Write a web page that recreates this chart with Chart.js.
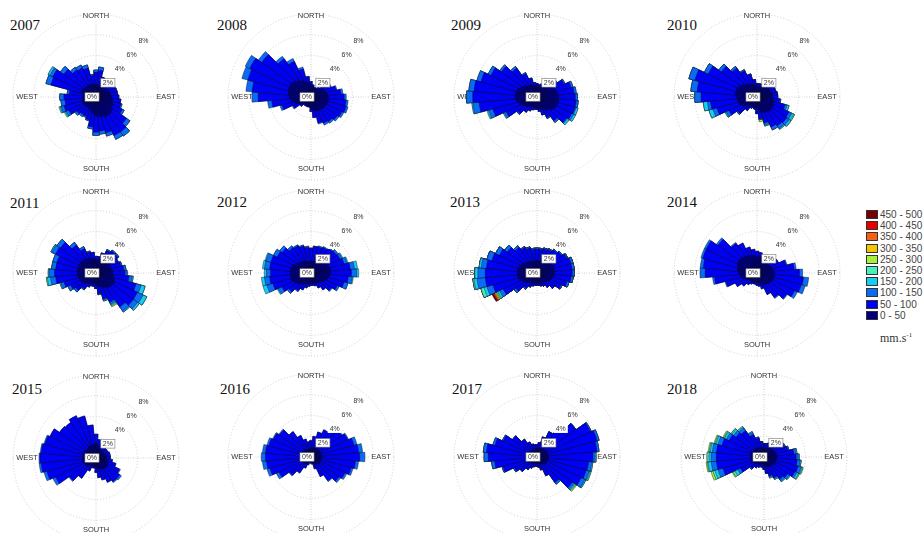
<!DOCTYPE html>
<html>
<head>
<meta charset="utf-8">
<script src="https://cdn.jsdelivr.net/npm/chart.js@4.4.0/dist/chart.umd.min.js"></script>
<style>
  html, body { margin: 0; padding: 0; background: #fff; }
  body { width: 924px; height: 533px; position: relative; overflow: hidden; }
  .rose { position: absolute; }
  .year { position: absolute; font: 15px "Liberation Serif", "Times New Roman", serif; color: #111; line-height: 15px; }
  #legend { position: absolute; left: 866px; top: 209px; font: 10px "Liberation Sans", Arial, sans-serif; color: #444; }
  .row { height: 11.2px; display: flex; align-items: center; white-space: nowrap; }
  .sw { width: 10px; height: 7px; border: 0.5px solid #333; margin-right: 2px; }
  #unit { position: absolute; left: 880px; top: 331px; font: 12px "Liberation Serif", serif; color: #333; }
  #unit sup { font-size: 7px; }
</style>
</head>
<body>
<div id="legend"></div>
<div id="unit">mm.s<sup>-1</sup></div>
<script>
// wind directions (deg, clockwise from north)
const directions = [0,10,20,30,40,50,60,70,80,90,100,110,120,130,140,150,160,170,180,190,200,210,220,230,240,250,260,270,280,290,300,310,320,330,340,350];
const compassNames = ['NORTH', 'EAST', 'SOUTH', 'WEST'];
const speedClasses = ['0 - 50','50 - 100','100 - 150','150 - 200','200 - 250','250 - 300','300 - 350','350 - 400','400 - 450','450 - 500'];
const years = ['2007','2008','2009','2010','2011','2012','2013','2014','2015','2016','2017','2018'];

// cumulative frequency (%) per direction: speed <= 50, <= 100, <= 150 ...
const y2007 = [
  [1.2,1.2,1.1,1.0,1.1,1.2,1.3,1.4,1.4,1.5,1.6,1.7,1.8,2.0,2.1,2.1,2.0,1.9,1.8,1.6,1.4,1.3,1.3,1.3,1.4,1.4,1.3,1.3,1.2,1.5,1.5,1.4,1.3,1.3,1.3,1.2],
  [2.4,2.6,2.0,1.6,1.7,1.9,2.0,2.1,2.1,2.2,2.4,2.5,2.8,3.6,4.1,4.1,3.6,3.3,3.4,2.9,2.3,2.1,2.1,2.3,2.9,3.2,3.0,3.1,2.6,4.5,4.6,3.8,3.2,3.1,2.9,2.1],
  [2.6,2.9,2.0,1.6,1.7,1.9,2.0,2.1,2.1,2.2,2.4,2.6,3.0,4.0,4.6,4.5,3.9,3.6,3.7,3.1,2.4,2.2,2.3,2.5,3.2,3.5,3.4,3.5,2.8,5.0,4.9,4.2,3.5,3.4,3.2,2.2],
  [2.6,2.9,2.0,1.6,1.7,1.9,2.0,2.1,2.1,2.2,2.4,2.6,3.0,4.0,4.6,4.5,3.9,3.6,3.7,3.1,2.4,2.2,2.3,2.5,3.3,3.6,3.4,3.5,2.8,5.0,5.1,4.2,3.5,3.4,3.2,2.2],
  [2.6,2.9,2.0,1.6,1.7,1.9,2.0,2.1,2.1,2.2,2.4,2.6,3.0,4.0,4.6,4.5,3.9,3.6,3.7,3.1,2.4,2.2,2.3,2.5,3.4,3.7,3.4,3.5,2.8,5.0,5.1,4.2,3.5,3.4,3.2,2.2]
];
const y2008 = [
  [1.2,1.0,0.9,0.9,1.0,1.2,1.4,1.5,1.6,1.7,1.7,1.7,1.6,1.6,1.5,1.5,1.4,1.3,1.1,0.9,0.9,0.9,0.9,1.0,1.3,1.6,1.9,2.1,2.2,2.3,2.3,2.2,2.0,1.8,1.6,1.4],
  [1.5,1.2,1.0,1.0,1.2,1.6,2.1,2.5,2.9,3.2,3.4,3.5,3.3,3.1,2.9,2.8,2.6,2.0,1.4,1.0,1.0,1.0,1.0,1.3,1.9,2.9,3.8,5.1,5.7,6.3,6.5,5.8,4.5,3.8,2.8,2.0],
  [1.5,1.2,1.0,1.0,1.2,1.6,2.2,2.6,3.1,3.4,3.6,3.7,3.5,3.3,3.1,3.0,2.7,2.0,1.4,1.0,1.0,1.0,1.0,1.3,2.0,3.1,4.2,5.7,6.3,6.9,7.0,6.2,4.8,4.1,3.0,2.0]
];
const y2009 = [
  [1.0,1.0,1.0,1.1,1.2,1.5,1.7,1.9,2.0,2.1,2.1,2.1,2.0,1.9,1.6,1.4,1.2,1.1,1.0,1.0,1.0,1.1,1.2,1.4,1.6,1.8,2.0,2.1,2.1,2.0,1.8,1.6,1.4,1.3,1.2,1.1],
  [1.3,1.2,1.3,1.4,1.5,2.3,2.9,3.4,3.6,3.7,3.8,3.8,3.7,3.5,2.8,2.2,1.8,1.4,1.2,1.2,1.3,1.5,1.8,2.3,3.3,4.4,5.6,6.2,6.1,5.6,4.9,4.2,3.4,2.5,1.9,1.4],
  [1.3,1.2,1.3,1.4,1.5,2.4,3.0,3.6,3.8,3.9,4.0,3.9,3.9,3.6,3.0,2.3,1.8,1.4,1.2,1.2,1.3,1.5,1.8,2.4,3.5,4.8,6.2,6.8,6.6,6.0,5.2,4.4,3.6,2.6,1.9,1.4],
  [1.3,1.2,1.3,1.4,1.5,2.4,3.0,3.6,3.8,3.9,4.0,4.1,4.1,3.8,3.0,2.3,1.8,1.4,1.2,1.2,1.3,1.5,1.8,2.4,3.6,4.9,6.3,6.8,6.6,6.0,5.2,4.4,3.6,2.6,1.9,1.4],
  [1.3,1.2,1.3,1.4,1.5,2.4,3.0,3.6,3.8,3.9,4.0,4.1,4.1,3.8,3.0,2.3,1.8,1.4,1.2,1.2,1.3,1.5,1.8,2.4,3.6,5.0,6.3,6.8,6.6,6.0,5.2,4.4,3.6,2.6,1.9,1.4]
];
const y2010 = [
  [1.0,1.0,1.0,1.1,1.2,1.3,1.4,1.4,1.5,1.5,1.6,1.7,1.8,1.8,1.8,1.7,1.6,1.4,1.2,1.0,0.9,1.0,1.2,1.4,1.6,1.8,1.9,2.0,2.1,2.1,2.0,1.8,1.6,1.4,1.3,1.2],
  [1.3,1.3,1.3,1.4,1.5,1.7,1.9,1.9,2.0,2.0,2.2,2.8,3.4,3.5,3.4,3.2,2.6,2.1,1.6,1.2,1.1,1.2,1.6,2.3,3.0,4.0,4.5,5.4,5.8,6.2,5.2,4.2,3.4,2.8,2.3,1.7],
  [1.3,1.3,1.3,1.4,1.5,1.7,1.9,1.9,2.0,2.0,2.3,3.0,3.7,3.8,3.7,3.5,2.8,2.2,1.6,1.2,1.1,1.2,1.6,2.4,3.3,4.4,4.8,6.0,6.4,6.8,5.6,4.5,3.6,2.9,2.3,1.7],
  [1.3,1.3,1.3,1.4,1.5,1.7,1.9,1.9,2.0,2.0,2.3,3.2,3.9,4.0,3.8,3.5,2.9,2.2,1.6,1.2,1.1,1.2,1.6,2.4,3.4,4.8,5.2,6.0,6.4,6.8,5.6,4.5,3.6,2.9,2.3,1.7],
  [1.3,1.3,1.3,1.4,1.5,1.7,1.9,1.9,2.0,2.0,2.3,3.2,4.0,4.0,3.8,3.5,2.9,2.2,1.6,1.2,1.1,1.2,1.6,2.4,3.4,4.8,5.2,6.0,6.4,6.8,5.6,4.5,3.6,2.9,2.3,1.7],
  [1.3,1.3,1.3,1.4,1.5,1.7,1.9,1.9,2.0,2.0,2.3,3.2,4.0,4.0,3.8,3.5,2.9,2.4,1.6,1.2,1.1,1.2,1.6,2.4,3.4,4.8,5.2,6.0,6.4,6.8,5.6,4.5,3.6,2.9,2.3,1.7]
];
const y2011 = [
  [1.3,1.3,1.4,1.5,1.6,1.6,1.5,1.5,1.6,1.6,1.7,1.9,2.0,1.9,1.8,1.6,1.4,1.3,1.1,1.0,1.0,1.1,1.3,1.5,1.6,1.7,1.8,1.8,1.8,1.8,1.8,1.8,1.7,1.6,1.5,1.4],
  [1.6,1.6,2.0,2.4,2.6,2.6,2.4,2.5,2.7,2.8,3.2,4.0,4.4,4.4,4.0,3.1,2.6,2.0,1.5,1.3,1.3,1.5,1.9,2.4,2.7,3.2,3.9,4.0,3.9,3.9,4.3,4.2,3.3,2.6,2.1,2.0],
  [1.6,1.6,2.0,2.5,2.7,2.7,2.4,2.6,2.9,3.0,3.5,4.5,5.0,4.9,4.5,3.3,2.7,2.1,1.5,1.3,1.3,1.5,2.0,2.6,3.0,3.5,4.4,4.5,4.3,4.3,4.7,4.6,3.6,2.8,2.2,2.0],
  [1.6,1.6,2.0,2.5,2.7,2.7,2.4,2.6,2.9,3.0,3.6,4.9,5.4,5.1,4.6,3.4,2.8,2.1,1.5,1.3,1.3,1.5,2.0,2.6,3.0,3.6,4.7,4.6,4.3,4.3,4.8,4.6,3.6,2.8,2.2,2.0],
  [1.6,1.6,2.0,2.5,2.7,2.7,2.4,2.6,2.9,3.0,3.6,4.9,5.4,5.1,4.6,3.5,2.8,2.1,1.5,1.3,1.3,1.5,2.0,2.6,3.0,3.6,4.8,4.6,4.3,4.3,4.8,4.6,3.6,2.8,2.2,2.0],
  [1.6,1.6,2.0,2.5,2.7,2.7,2.4,2.6,2.9,3.0,3.6,4.9,5.4,5.1,4.6,3.6,2.8,2.1,1.5,1.3,1.3,1.5,2.0,2.6,3.0,3.6,4.8,4.6,4.3,4.3,4.8,4.6,3.6,2.8,2.2,2.0]
];
const y2012 = [
  [1.1,1.1,1.2,1.3,1.4,1.5,1.7,1.8,1.9,1.9,1.8,1.7,1.5,1.3,1.2,1.1,1.0,1.0,1.0,1.0,1.1,1.2,1.4,1.6,1.8,2.0,2.0,2.0,2.0,1.9,1.7,1.5,1.4,1.3,1.2,1.1],
  [2.4,2.6,2.6,2.7,2.9,3.0,3.1,3.3,3.8,3.9,3.6,3.3,2.8,2.4,2.0,1.6,1.3,1.2,1.2,1.3,1.5,1.8,2.1,2.6,3.1,3.8,4.0,3.9,4.0,4.0,3.6,3.4,3.0,2.9,2.7,2.5],
  [2.4,2.6,2.7,2.8,3.0,3.2,3.3,3.6,4.2,4.4,4.0,3.7,3.0,2.5,2.0,1.6,1.3,1.2,1.2,1.3,1.5,1.8,2.2,2.8,3.5,4.4,4.5,4.3,4.5,4.5,4.0,3.7,3.2,3.0,2.8,2.6],
  [2.4,2.6,2.7,2.8,3.0,3.2,3.4,3.7,4.5,4.6,4.1,3.7,3.0,2.5,2.0,1.6,1.3,1.2,1.2,1.3,1.5,1.8,2.2,2.8,3.6,4.8,4.8,4.5,4.7,4.6,4.0,3.7,3.2,3.0,2.8,2.6]
];
const y2013 = [
  [1.2,1.2,1.2,1.3,1.4,1.5,1.6,1.7,1.7,1.7,1.6,1.5,1.4,1.2,1.1,1.0,1.0,1.0,1.0,1.0,1.0,1.1,1.2,1.4,1.6,1.8,1.9,1.9,1.9,1.8,1.7,1.5,1.4,1.3,1.2,1.2],
  [2.3,2.3,2.4,2.5,2.7,2.9,3.2,3.4,3.4,3.4,3.3,3.0,2.6,2.1,1.7,1.4,1.3,1.2,1.2,1.2,1.3,1.5,1.8,2.5,3.6,4.4,5.0,5.0,4.9,4.5,4.0,3.5,3.0,2.7,2.5,2.3],
  [2.4,2.4,2.5,2.6,2.8,3.0,3.3,3.6,3.6,3.6,3.5,3.2,2.7,2.1,1.7,1.4,1.3,1.2,1.2,1.2,1.3,1.5,1.9,2.7,4.0,5.0,5.8,5.7,5.4,5.0,4.4,3.8,3.2,2.8,2.6,2.4],
  [2.4,2.4,2.5,2.6,2.8,3.0,3.3,3.6,3.6,3.6,3.5,3.2,2.7,2.1,1.7,1.4,1.3,1.2,1.2,1.2,1.3,1.5,1.9,2.7,4.2,5.3,6.1,6.0,5.6,5.0,4.4,3.8,3.2,2.8,2.6,2.4],
  [2.4,2.4,2.5,2.6,2.8,3.0,3.3,3.6,3.6,3.6,3.5,3.2,2.7,2.1,1.7,1.4,1.3,1.2,1.2,1.2,1.3,1.5,1.9,2.7,4.3,5.6,6.2,6.0,5.6,5.0,4.4,3.8,3.2,2.8,2.6,2.4],
  [2.4,2.4,2.5,2.6,2.8,3.0,3.3,3.6,3.6,3.6,3.5,3.2,2.7,2.1,1.7,1.4,1.3,1.2,1.2,1.2,1.3,1.5,1.9,2.7,4.4,5.6,6.2,6.0,5.6,5.0,4.4,3.8,3.2,2.8,2.6,2.4],
  [2.4,2.4,2.5,2.6,2.8,3.0,3.3,3.6,3.6,3.6,3.5,3.2,2.7,2.1,1.7,1.4,1.3,1.2,1.2,1.2,1.3,1.5,1.9,2.7,4.5,5.6,6.2,6.0,5.6,5.0,4.4,3.8,3.2,2.8,2.6,2.4],
  [2.4,2.4,2.5,2.6,2.8,3.0,3.3,3.6,3.6,3.6,3.5,3.2,2.7,2.1,1.7,1.4,1.3,1.2,1.2,1.2,1.3,1.5,1.9,2.7,4.6,5.6,6.2,6.0,5.6,5.0,4.4,3.8,3.2,2.8,2.6,2.4],
  [2.4,2.4,2.5,2.6,2.8,3.0,3.3,3.6,3.6,3.6,3.5,3.2,2.7,2.1,1.7,1.4,1.3,1.2,1.2,1.2,1.3,1.5,1.9,2.7,4.7,5.6,6.2,6.0,5.6,5.0,4.4,3.8,3.2,2.8,2.6,2.4],
  [2.4,2.4,2.5,2.6,2.8,3.0,3.3,3.6,3.6,3.6,3.5,3.2,2.7,2.1,1.7,1.4,1.3,1.2,1.2,1.2,1.3,1.5,1.9,2.7,4.8,5.6,6.2,6.0,5.6,5.0,4.4,3.8,3.2,2.8,2.6,2.4]
];
const y2014 = [
  [1.6,1.6,1.4,1.3,1.3,1.3,1.4,1.5,1.6,1.7,1.7,1.7,1.6,1.5,1.4,1.3,1.1,1.0,0.9,0.9,0.9,0.9,1.0,1.1,1.2,1.4,1.6,1.8,1.9,2.0,2.1,2.1,2.0,1.9,1.8,1.7],
  [2.1,2.0,1.7,1.6,1.6,1.8,2.3,2.9,3.6,4.1,4.5,4.4,4.0,3.5,2.9,2.3,1.6,1.3,1.2,1.1,1.1,1.2,1.4,1.8,2.3,3.1,4.1,5.0,5.2,5.4,5.4,4.6,3.5,3.2,2.6,2.3],
  [2.1,2.0,1.7,1.6,1.6,1.8,2.3,3.0,3.8,4.4,5.0,4.8,4.3,3.6,3.0,2.3,1.6,1.3,1.2,1.1,1.1,1.2,1.4,1.8,2.3,3.2,4.3,5.5,5.5,5.6,5.6,4.8,3.6,3.2,2.6,2.3]
];
const y2015 = [
  [1.4,1.2,1.0,0.9,0.9,0.9,0.9,1.0,1.0,1.0,1.1,1.2,1.3,1.3,1.3,1.2,1.1,1.0,0.9,0.8,0.8,0.9,1.0,1.1,1.2,1.3,1.3,1.3,1.3,1.3,1.3,1.2,1.2,1.3,1.3,1.3],
  [2.3,1.8,1.5,1.3,1.3,1.3,1.3,1.4,1.4,1.4,1.6,2.0,2.5,2.8,2.8,2.6,2.2,1.9,1.4,1.0,1.0,1.4,2.4,3.1,4.3,4.9,5.3,5.4,5.3,5.1,4.9,4.3,4.2,4.5,4.2,3.2],
  [2.3,1.8,1.5,1.3,1.3,1.3,1.3,1.4,1.4,1.4,1.6,2.0,2.6,3.0,2.9,2.6,2.2,1.9,1.4,1.0,1.0,1.4,2.4,3.2,4.6,5.2,5.5,5.5,5.4,5.2,4.9,4.3,4.2,4.5,4.2,3.2]
];
const y2016 = [
  [0.8,0.9,0.9,1.0,1.0,1.0,1.0,1.0,1.0,1.0,1.0,1.0,1.0,1.0,0.9,0.8,0.7,0.5,0.4,0.4,0.5,0.7,0.8,0.9,0.9,1.0,1.0,1.0,1.0,1.0,1.0,0.9,0.9,0.8,0.8,0.8],
  [1.6,2.0,2.5,2.9,3.4,3.6,3.9,4.3,4.6,4.7,4.3,4.0,3.6,3.3,2.8,2.1,1.2,0.7,0.6,0.6,0.8,1.2,1.9,2.5,3.4,4.1,4.3,4.4,4.4,4.2,4.0,3.7,3.0,2.3,1.8,1.5],
  [1.6,2.0,2.5,2.9,3.4,3.7,4.0,4.6,5.0,5.2,4.6,4.2,3.8,3.5,2.9,2.1,1.2,0.7,0.6,0.6,0.8,1.2,1.9,2.6,3.7,4.4,4.7,4.8,4.7,4.4,4.1,3.8,3.0,2.3,1.8,1.5]
];
const y2017 = [
  [0.8,0.8,0.9,0.9,1.0,1.0,1.1,1.1,1.1,1.1,1.1,1.1,1.0,1.0,0.9,0.8,0.7,0.6,0.6,0.6,0.6,0.7,0.8,0.8,0.9,0.9,0.9,0.9,0.9,0.9,0.9,0.8,0.8,0.8,0.8,0.8],
  [1.2,1.4,2.0,2.7,3.6,4.6,5.7,6.0,5.8,5.4,5.0,4.9,4.7,4.2,3.0,2.0,1.3,1.0,0.9,0.9,1.0,1.2,1.5,2.0,2.4,3.4,4.1,4.7,4.9,4.2,3.6,2.9,2.1,1.6,1.3,1.2],
  [1.2,1.4,2.0,2.7,3.6,4.6,5.8,6.2,6.0,5.6,5.3,5.2,5.1,4.4,3.2,2.0,1.3,1.0,0.9,0.9,1.0,1.2,1.5,2.0,2.5,3.5,4.4,5.1,5.2,4.4,3.7,2.9,2.1,1.6,1.3,1.2],
  [1.2,1.4,2.0,2.7,3.6,4.6,5.8,6.2,6.0,5.7,5.4,5.3,5.2,4.5,3.2,2.0,1.3,1.0,0.9,0.9,1.0,1.2,1.5,2.0,2.5,3.5,4.4,5.1,5.2,4.4,3.7,2.9,2.1,1.6,1.3,1.2],
  [1.2,1.4,2.0,2.7,3.6,4.6,5.8,6.2,6.0,5.7,5.4,5.4,5.2,4.6,3.2,2.0,1.3,1.0,0.9,0.9,1.0,1.2,1.5,2.0,2.5,3.5,4.4,5.1,5.2,4.4,3.7,2.9,2.1,1.6,1.3,1.2],
  [1.2,1.4,2.0,2.7,3.6,4.6,5.8,6.2,6.0,5.7,5.4,5.4,5.2,4.7,3.2,2.0,1.3,1.0,0.9,0.9,1.0,1.2,1.5,2.0,2.5,3.5,4.4,5.1,5.2,4.4,3.7,2.9,2.1,1.6,1.3,1.2]
];
const y2018 = [
  [0.9,0.9,0.9,1.0,1.0,1.1,1.1,1.2,1.2,1.2,1.2,1.2,1.2,1.1,1.1,1.0,1.0,0.9,0.8,0.7,0.7,0.8,0.9,1.0,1.1,1.2,1.3,1.3,1.3,1.3,1.2,1.2,1.1,1.0,1.0,0.9],
  [1.3,1.3,1.4,1.6,1.9,2.1,2.2,2.4,2.9,3.1,3.2,3.4,3.3,2.8,2.6,2.2,1.9,1.6,1.2,1.0,1.0,1.1,1.3,1.6,2.5,4.1,4.6,4.6,4.6,4.2,3.7,3.3,3.1,2.4,1.9,1.5],
  [1.3,1.3,1.4,1.6,1.9,2.1,2.3,2.5,3.1,3.3,3.5,3.7,3.5,3.0,2.8,2.3,2.0,1.6,1.2,1.0,1.0,1.1,1.3,1.7,2.8,4.6,5.1,5.1,5.0,4.6,4.0,3.6,3.4,2.6,2.0,1.5],
  [1.3,1.3,1.4,1.6,1.9,2.1,2.3,2.5,3.2,3.4,3.6,3.8,3.7,3.1,2.9,2.4,2.1,1.6,1.2,1.0,1.0,1.1,1.3,1.7,3.1,4.9,5.4,5.3,5.2,4.8,4.2,3.8,3.5,2.7,2.0,1.5],
  [1.3,1.3,1.4,1.6,1.9,2.1,2.3,2.5,3.2,3.4,3.6,3.9,3.7,3.1,2.9,2.4,2.1,1.6,1.2,1.0,1.0,1.1,1.3,1.7,3.3,5.1,5.5,5.5,5.3,4.9,4.3,3.9,3.6,2.7,2.0,1.5],
  [1.3,1.3,1.4,1.6,1.9,2.1,2.3,2.5,3.2,3.4,3.6,3.9,3.8,3.1,2.9,2.4,2.1,1.6,1.2,1.0,1.0,1.1,1.3,1.7,3.4,5.3,5.6,5.5,5.4,5.0,4.4,3.9,3.6,2.7,2.0,1.5]
];
const roses = [y2007, y2008, y2009, y2010, y2011, y2012, y2013, y2014, y2015, y2016, y2017, y2018];

// styling / layout
const classColors = ['#00007c','#0000f2','#0a6cf5','#16cdf2','#46f0bb','#a8f03a','#f8c400','#f56012','#e60000','#780000'];
const panelCenters = [[96,97],[311,97],[537,97],[757,97],[96,273],[311,273],[537,273],[757,273],[96,458],[311,457],[537,457],[764,457]];
const yearPos = [[10,25],[217,25],[451,25],[667,25],[10,203],[217,202],[450,202],[667,202],[12,389],[220,389],[452,389],[667,389]];
const HALF = 90;

// cross lines, compass words (under the bars) and % labels (over the bars)
const roseDecor = {
  id: 'roseDecor',
  beforeDatasetsDraw(chart) {
    const s = chart.scales.r, ctx = chart.ctx;
    const x = s.xCenter, y = s.yCenter, R = s.drawingArea;
    ctx.save();
    ctx.strokeStyle = '#c4c4c4';
    ctx.lineWidth = 0.8;
    ctx.setLineDash([1, 1.5]);
    ctx.beginPath();
    ctx.moveTo(x, y - R); ctx.lineTo(x, y + R);
    ctx.moveTo(x - R, y); ctx.lineTo(x + R, y);
    ctx.stroke();
    ctx.setLineDash([]);
    ctx.font = '7.5px "Liberation Sans", Arial, sans-serif';
    ctx.textAlign = 'center';
    ctx.textBaseline = 'middle';
    const offs = [[0, -(R - 2)], [R - 13, 0], [0, R - 11], [-(R - 14), 0]];
    compassNames.forEach((t, i) => {
      const px = x + offs[i][0], py = y + offs[i][1];
      const w = ctx.measureText(t).width;
      ctx.fillStyle = '#fff';
      ctx.fillRect(px - w / 2 - 1, py - 4.5, w + 2, 9);
      ctx.fillStyle = '#333';
      ctx.fillText(t, px, py);
    });
    ctx.restore();
  },
  afterDatasetsDraw(chart) {
    const s = chart.scales.r, ctx = chart.ctx;
    const x = s.xCenter, y = s.yCenter;
    const a = 40 * Math.PI / 180;
    ctx.save();
    ctx.font = '7px "Liberation Sans", Arial, sans-serif';
    ctx.textAlign = 'center';
    ctx.textBaseline = 'middle';
    s.ticks.forEach(t => {
      const d = s.getDistanceFromCenterForValue(t.value) * 0.89;
      const px = t.value === 0 ? x - 4 : x + d * Math.sin(a);
      const py = t.value === 0 ? y : y - d * Math.cos(a);
      const w = ctx.measureText(t.label).width + 4, h = 8.5;
      ctx.fillStyle = '#fff';
      ctx.fillRect(px - w / 2, py - h / 2, w, h);
      if (t.value <= 2) {
        ctx.strokeStyle = '#777';
        ctx.lineWidth = 0.6;
        ctx.strokeRect(px - w / 2, py - h / 2, w, h);
      }
      ctx.fillStyle = '#333';
      ctx.fillText(t.label, px, py + 0.5);
    });
    ctx.restore();
  }
};

document.addEventListener('DOMContentLoaded', () => {

  // legend (top = fastest class)
  const legend = document.getElementById('legend');
  for (let k = speedClasses.length - 1; k >= 0; k--) {
    const row = document.createElement('div');
    row.className = 'row';
    row.innerHTML = `<span class="sw" style="background:${classColors[k]}"></span>${speedClasses[k]}`;
    legend.appendChild(row);
  }

  years.forEach((yr, i) => {
    const [cx, cy] = panelCenters[i];

    const lab = document.createElement('div');
    lab.className = 'year';
    lab.textContent = yr;
    lab.style.left = yearPos[i][0] + 'px';
    lab.style.top = (yearPos[i][1] - 7.5) + 'px';
    document.body.appendChild(lab);

    const cv = document.createElement('canvas');
    cv.className = 'rose';
    cv.width = HALF * 2;
    cv.height = HALF * 2;
    cv.style.left = (cx - HALF) + 'px';
    cv.style.top = (cy - HALF) + 'px';
    document.body.appendChild(cv);

    // one dataset per speed class, cumulative, smallest drawn on top
    const rows = roses[i];
    const datasets = rows.map((vals, k) => ({
      label: speedClasses[k],
      data: vals,
      backgroundColor: classColors[k],
      borderColor: 'rgba(10,10,30,0.85)',
      borderWidth: 0.5
    }));

    new Chart(cv, {
      type: 'polarArea',
      data: { labels: directions.map(d => d + '°'), datasets },
      options: {
        responsive: false,
        animation: false,
        layout: { padding: 7 },
        plugins: { legend: { display: false }, tooltip: { enabled: false } },
        scales: {
          r: {
            min: 0,
            max: 8,
            startAngle: -5,
            ticks: { display: false, stepSize: 2, callback: v => v + '%' },
            grid: { circular: true, color: '#c4c4c4', lineWidth: 0.8, borderDash: [1, 2] },
            border: { dash: [1, 2] },
            angleLines: { display: false },
            pointLabels: { display: false }
          }
        }
      },
      plugins: [roseDecor]
    });
  });
});
</script>
</body>
</html>
